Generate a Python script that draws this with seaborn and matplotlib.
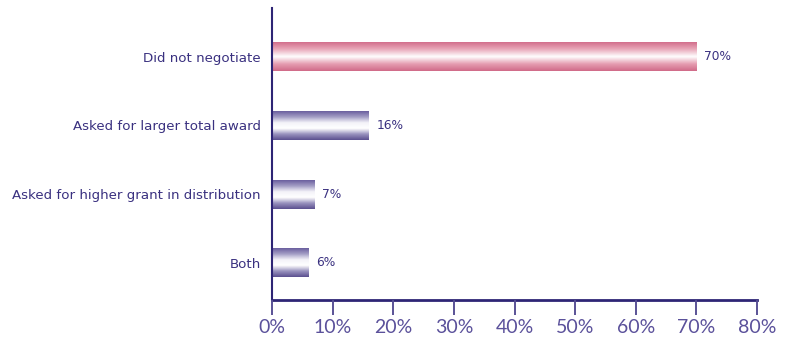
import numpy as np
import pandas as pd
import matplotlib
matplotlib.use("Agg")
import matplotlib.pyplot as plt
import seaborn as sns
from matplotlib.colors import LinearSegmentedColormap
from matplotlib.ticker import FuncFormatter
from matplotlib.lines import Line2D

categories = ["Did not negotiate", "Asked for larger total award",
              "Asked for higher grant in distribution", "Both"]
values = [70, 16, 7, 6]
value_labels = ["70%", "16%", "7%", "6%"]
xticks = [0, 10, 20, 30, 40, 50, 60, 70, 80]

sns.set_theme(style="white")
plt.rcParams['font.family'] = ['DejaVu Sans']

df = pd.DataFrame({"category": categories, "value": values})

fig = plt.figure(figsize=(7.86, 3.43), dpi=100)
ax = fig.add_axes([272/786, 43/343, 485/786, 292/343])

sns.barplot(data=df, y="category", x="value", ax=ax, orient="h",
            width=0.42, color="white", edgecolor="none", saturation=1)

label_color = "#3a3180"
tick_color = "#5b519b"
axis_color = "#2e2575"
tick_line_color = "#5a5296"

pink = LinearSegmentedColormap.from_list(
    "pink", ["#d36f8c", "#e9aabb", "#ffffff", "#e6a0b3", "#d16b89"])
purple = LinearSegmentedColormap.from_list(
    "purple", ["#6b609f", "#a59fc6", "#f4f3f9", "#ffffff", "#9a93bf", "#5c5190"])

grad = np.linspace(0, 1, 64).reshape(-1, 1)
for i, patch in enumerate(ax.patches[:len(values)]):
    x0, y0 = patch.get_x(), patch.get_y()
    w, h = patch.get_width(), patch.get_height()
    cmap = pink if i == 0 else purple
    ax.imshow(grad, cmap=cmap, aspect="auto",
              extent=[x0, x0 + w, y0 + h, y0], zorder=2,
              interpolation="bilinear")
    ax.text(x0 + w + 1.3, y0 + h / 2, value_labels[i], va="center",
            ha="left", fontsize=8.8, color=label_color,
            family="DejaVu Sans", fontweight="medium")

ax.set_xlim(0, 80)
ax.set_ylim(3.54, -0.71)
ax.set_xticks(xticks)
ax.xaxis.set_major_formatter(FuncFormatter(lambda v, p: f"{int(v)}%"))
ax.set_xlabel("")
ax.set_ylabel("")

for s in ["top", "right"]:
    ax.spines[s].set_visible(False)
ax.spines["left"].set_color(axis_color)
ax.spines["left"].set_linewidth(1.5)
ax.spines["bottom"].set_color(axis_color)
ax.spines["bottom"].set_linewidth(2)

ax.tick_params(axis="y", length=0, pad=8)
for lab in ax.get_yticklabels():
    lab.set_fontsize(9.6)
    lab.set_color(label_color)
    lab.set_family("DejaVu Sans")

ax.tick_params(axis="x", which="major", direction="out", length=11,
               width=1.2, color=tick_line_color, labelsize=14,
               labelcolor=tick_color, pad=3, bottom=True)
for t in ax.xaxis.get_major_ticks():
    t.label1.set_family(["Lato", "DejaVu Sans"])
    t.label1.set_fontweight("normal")

# tick marks drawn at figure level as well, at the same tick positions
tick_len = 15 / 292
for v in xticks:
    fig.add_artist(Line2D([v, v], [0, -tick_len],
                          transform=ax.get_xaxis_transform(),
                          color=tick_line_color, lw=1.2, zorder=10,
                          solid_capstyle="butt"))

fig.savefig("out.png", dpi=100)
